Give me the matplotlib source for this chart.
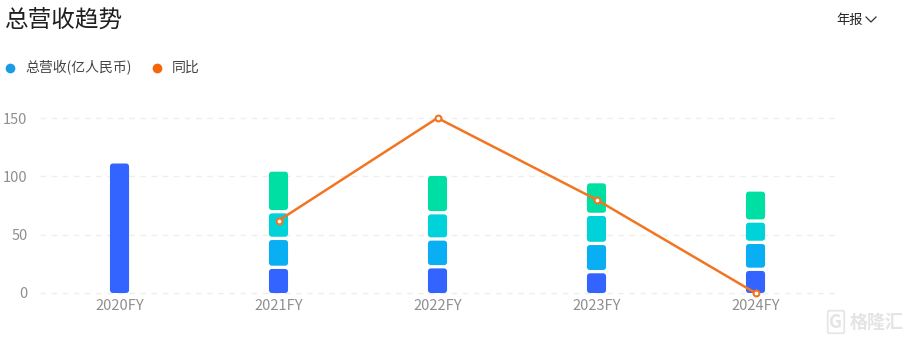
import numpy as np
import matplotlib
matplotlib.use("Agg")
import matplotlib.pyplot as plt
from matplotlib.patches import FancyBboxPatch
from matplotlib.lines import Line2D

plt.rcParams['font.family'] = ['Noto Sans CJK SC', 'DejaVu Sans']

# data
years = ['2020FY', '2021FY', '2022FY', '2023FY', '2024FY']
q1 = [111.0, 20.6, 21.1, 16.9, 18.9]
q2 = [0.0, 24.8, 23.8, 24.2, 23.1]
q3 = [0.0, 22.9, 22.5, 24.9, 18.3]
q4 = [0.0, 35.7, 32.9, 28.0, 26.6]
yoy_years = ['2021FY', '2022FY', '2023FY', '2024FY']
yoy = [62.0, 150.0, 80.0, 0.0]
yticks = [0, 50, 100, 150]

seg_colors = ['#3364FF', '#0AAEF2', '#00D2DA', '#00DFA3']
line_color = '#F27522'

fig = plt.figure(figsize=(9.09, 3.39), dpi=100)
ax = fig.add_axes([40 / 909, 46 / 339, 795 / 909, 175 / 339])

x = np.arange(len(years))
gap = 2.8
bar_w = 0.12
bottoms = np.zeros(len(years))
for vals, col in zip([q1, q2, q3, q4], seg_colors):
    vals = np.array(vals)
    g = np.where(bottoms > 0, gap, 0.0)
    h = np.where(vals > 0, vals - g, 0.0)
    bars = ax.bar(x, h, width=bar_w, bottom=bottoms + g, color=col, linewidth=0)
    for p in bars:
        if p.get_height() <= 0:
            p.remove()
            continue
        bx, by = p.get_x(), p.get_y()
        bw, bh = p.get_width(), p.get_height()
        p.remove()
        # rounded segment, same place as the bar
        ax.add_patch(FancyBboxPatch((bx, by), bw, bh,
                                    boxstyle="round,pad=0,rounding_size=0.02",
                                    mutation_aspect=136, facecolor=col,
                                    edgecolor='none', zorder=2))
    bottoms = bottoms + vals

xl = [years.index(y) for y in yoy_years]
ax.plot(xl, yoy, color=line_color, lw=1.8, zorder=4, clip_on=False)
ax.plot(xl, yoy, 'o', ms=4.2, mfc='white', mec=line_color, mew=1.5,
        zorder=5, clip_on=False)

ax.set_xlim(-0.5, len(years) - 0.5)
ax.set_ylim(0, 150)
ax.set_xticks(x)
ax.set_xticklabels(years)
ax.set_yticks(yticks)
ax.tick_params(axis='both', length=0, labelsize=10.5, colors='#8f8f8f')
ax.tick_params(axis='y', pad=9)
ax.tick_params(axis='x', pad=4)
for s in ax.spines.values():
    s.set_visible(False)
ax.grid(False)
for t in yticks:
    ax.axhline(t, color='#eeeeee', ls=(0, (4, 4)), lw=1, zorder=0, clip_on=False)

# title and header
fig.text(5 / 909, 1 - 21 / 339, '总营收趋势', fontsize=17, color='#1f1f1f',
         va='center', ha='left')
fig.text(836 / 909, 1 - 20 / 339, '年报', fontsize=9.5, color='#222222',
         va='center', ha='left')
fig.add_artist(Line2D([866 / 909, 871 / 909, 876 / 909],
                      [1 - 17 / 339, 1 - 22 / 339, 1 - 17 / 339],
                      color='#333333', lw=0.9))

# legend
fig.add_artist(Line2D([10 / 909], [1 - 68 / 339], marker='o', ms=7,
                      color='#1a9be6', mec='none'))
fig.text(25 / 909, 1 - 68 / 339, '总营收(亿人民币)', fontsize=10, color='#444444',
         va='center', ha='left')
fig.add_artist(Line2D([157 / 909], [1 - 68 / 339], marker='o', ms=7,
                      color='#F5650A', mec='none'))
fig.text(172 / 909, 1 - 68 / 339, '同比', fontsize=10, color='#444444',
         va='center', ha='left')

# watermark
fig.text(877 / 909, 1 - 322 / 339, '格隆汇', fontsize=13, color='#e4e4e4',
         va='center', ha='center', fontweight='bold')
fig.text(836 / 909, 1 - 322 / 339, 'G', fontsize=13, color='#e4e4e4',
         va='center', ha='center', fontweight='bold',
         bbox=dict(boxstyle='round,pad=0.1', fc='none', ec='#e4e4e4', lw=1.2))

fig.savefig('out.png', dpi=100)
